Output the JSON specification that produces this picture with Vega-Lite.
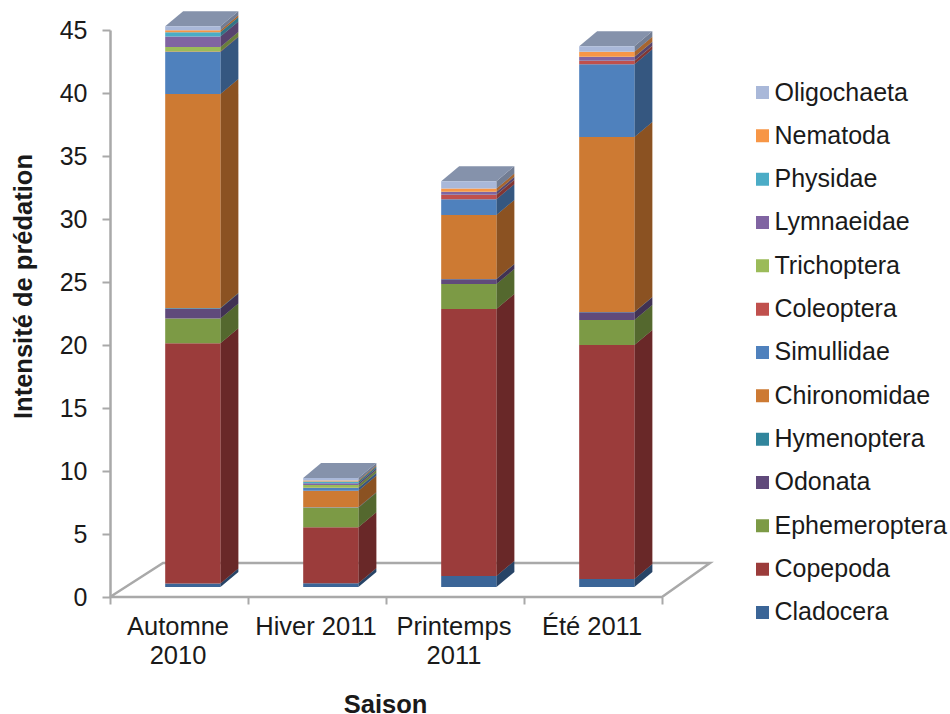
{
"$schema":"https://vega.github.io/schema/vega-lite/v6.json",
"width":600,"height":567,"autosize":"none",
"padding":{"left":110,"top":30,"right":240,"bottom":117},
"background":"white",
"config":{"view":{"stroke":null},"font":"Liberation Sans"},
"datasets":{
"rows":[
{"saison":"Automne 2010","i":0,"rang":1,"taxon":"Cladocera","v":0.28},{"saison":"Automne 2010","i":0,"rang":2,"taxon":"Copepoda","v":19.05},{"saison":"Automne 2010","i":0,"rang":3,"taxon":"Ephemeroptera","v":1.98},{"saison":"Automne 2010","i":0,"rang":4,"taxon":"Odonata","v":0.79},{"saison":"Automne 2010","i":0,"rang":5,"taxon":"Hymenoptera","v":0.04},{"saison":"Automne 2010","i":0,"rang":6,"taxon":"Chironomidae","v":16.98},{"saison":"Automne 2010","i":0,"rang":7,"taxon":"Simullidae","v":3.33},{"saison":"Automne 2010","i":0,"rang":8,"taxon":"Coleoptera","v":0.04},{"saison":"Automne 2010","i":0,"rang":9,"taxon":"Trichoptera","v":0.37},{"saison":"Automne 2010","i":0,"rang":10,"taxon":"Lymnaeidae","v":0.83},{"saison":"Automne 2010","i":0,"rang":11,"taxon":"Physidae","v":0.34},{"saison":"Automne 2010","i":0,"rang":12,"taxon":"Nematoda","v":0.16},{"saison":"Automne 2010","i":0,"rang":13,"taxon":"Oligochaeta","v":0.3},
{"saison":"Hiver 2011","i":1,"rang":1,"taxon":"Cladocera","v":0.3},{"saison":"Hiver 2011","i":1,"rang":2,"taxon":"Copepoda","v":4.44},{"saison":"Hiver 2011","i":1,"rang":3,"taxon":"Ephemeroptera","v":1.55},{"saison":"Hiver 2011","i":1,"rang":4,"taxon":"Odonata","v":0.02},{"saison":"Hiver 2011","i":1,"rang":5,"taxon":"Hymenoptera","v":0.02},{"saison":"Hiver 2011","i":1,"rang":6,"taxon":"Chironomidae","v":1.31},{"saison":"Hiver 2011","i":1,"rang":7,"taxon":"Simullidae","v":0.21},{"saison":"Hiver 2011","i":1,"rang":8,"taxon":"Coleoptera","v":0.02},{"saison":"Hiver 2011","i":1,"rang":9,"taxon":"Trichoptera","v":0.21},{"saison":"Hiver 2011","i":1,"rang":10,"taxon":"Lymnaeidae","v":0.14},{"saison":"Hiver 2011","i":1,"rang":11,"taxon":"Physidae","v":0.14},{"saison":"Hiver 2011","i":1,"rang":12,"taxon":"Nematoda","v":0.08},{"saison":"Hiver 2011","i":1,"rang":13,"taxon":"Oligochaeta","v":0.21},
{"saison":"Printemps 2011","i":2,"rang":1,"taxon":"Cladocera","v":0.87},{"saison":"Printemps 2011","i":2,"rang":2,"taxon":"Copepoda","v":21.19},{"saison":"Printemps 2011","i":2,"rang":3,"taxon":"Ephemeroptera","v":1.98},{"saison":"Printemps 2011","i":2,"rang":4,"taxon":"Odonata","v":0.38},{"saison":"Printemps 2011","i":2,"rang":5,"taxon":"Hymenoptera","v":0.02},{"saison":"Printemps 2011","i":2,"rang":6,"taxon":"Chironomidae","v":5.08},{"saison":"Printemps 2011","i":2,"rang":7,"taxon":"Simullidae","v":1.25},{"saison":"Printemps 2011","i":2,"rang":8,"taxon":"Coleoptera","v":0.34},{"saison":"Printemps 2011","i":2,"rang":9,"taxon":"Trichoptera","v":0.02},{"saison":"Printemps 2011","i":2,"rang":10,"taxon":"Lymnaeidae","v":0.21},{"saison":"Printemps 2011","i":2,"rang":11,"taxon":"Physidae","v":0.02},{"saison":"Printemps 2011","i":2,"rang":12,"taxon":"Nematoda","v":0.26},{"saison":"Printemps 2011","i":2,"rang":13,"taxon":"Oligochaeta","v":0.58},
{"saison":"Été 2011","i":3,"rang":1,"taxon":"Cladocera","v":0.63},{"saison":"Été 2011","i":3,"rang":2,"taxon":"Copepoda","v":18.57},{"saison":"Été 2011","i":3,"rang":3,"taxon":"Ephemeroptera","v":1.98},{"saison":"Été 2011","i":3,"rang":4,"taxon":"Odonata","v":0.61},{"saison":"Été 2011","i":3,"rang":5,"taxon":"Hymenoptera","v":0.02},{"saison":"Été 2011","i":3,"rang":6,"taxon":"Chironomidae","v":13.9},{"saison":"Été 2011","i":3,"rang":7,"taxon":"Simullidae","v":5.77},{"saison":"Été 2011","i":3,"rang":8,"taxon":"Coleoptera","v":0.26},{"saison":"Été 2011","i":3,"rang":9,"taxon":"Trichoptera","v":0.02},{"saison":"Été 2011","i":3,"rang":10,"taxon":"Lymnaeidae","v":0.29},{"saison":"Été 2011","i":3,"rang":11,"taxon":"Physidae","v":0.02},{"saison":"Été 2011","i":3,"rang":12,"taxon":"Nematoda","v":0.4},{"saison":"Été 2011","i":3,"rang":13,"taxon":"Oligochaeta","v":0.44}
],
"sol":[{"n":1,"a":0,"b":0},{"n":2,"a":0.384,"b":2.7},{"n":3,"a":4.348,"b":2.7},{"n":4,"a":4,"b":0},{"n":5,"a":0,"b":0}]
},
"layer":[
{"data":{"name":"sol"},
 "mark":{"type":"line","color":"#a9a9a9","strokeWidth":2.5},
 "encoding":{"order":{"field":"n","type":"quantitative"},
  "x":{"field":"a","type":"quantitative","scale":{"domain":[0,4.348],"nice":false,"zero":false},
   "axis":{"title":"Saison","titleFontSize":25.5,"titleFontWeight":"bold","titleColor":"#1a1a1a","titleX":275,"titleY":107,"titleBaseline":"middle",
    "domain":false,"grid":false,"values":[0,0.5,1,1.5,2,2.5,3,3.5,4],"tickColor":"#a9a9a9","tickWidth":2,"tickSize":7,
    "tickOpacity":{"condition":{"test":"datum.value%1==0","value":1},"value":0},
    "labelFontSize":25.5,"labelColor":"#1a1a1a","labelPadding":10,"labelOffset":-1.5,"labelOverlap":false,"labelBound":false,"labelFlush":false,"labelLineHeight":29,"labelAngle":0,
    "labelExpr":"datum.value==0.5?['Automne','2010']:datum.value==1.5?'Hiver 2011':datum.value==2.5?['Printemps','2011']:datum.value==3.5?'Été 2011':''"}},
  "y":{"field":"b","type":"quantitative","scale":{"domain":[0,45],"nice":false},
   "axis":{"title":"Intensité de prédation","titleFontSize":25.5,"titleFontWeight":"bold","titleColor":"#1a1a1a","titleX":-87,"titleY":256,"titleAlign":"center","titleBaseline":"middle",
    "values":[0,5,10,15,20,25,30,35,40,45],"grid":false,"domainColor":"#a9a9a9","domainWidth":2.5,"tickColor":"#a9a9a9","tickWidth":2,"tickSize":8,"labelFontSize":25,"labelColor":"#1a1a1a","labelPadding":15}}}},
{"data":{"name":"rows"},
 "transform":[{"stack":"v","groupby":["saison"],"sort":[{"field":"rang","order":"ascending"}],"as":["s0","s1"]},
  {"calculate":"[0,1]","as":"d"},{"flatten":["d"]},
  {"calculate":"datum.i+0.8+0.13*datum.d","as":"xa"},
  {"calculate":"datum.s0+0.8+1.19*datum.d","as":"ya"},
  {"calculate":"datum.s1+0.8+1.19*datum.d","as":"yb"},
  {"calculate":"datum.saison+datum.taxon","as":"cle"}],
 "layer":[
 {"mark":{"type":"area","orient":"vertical"},
  "encoding":{"x":{"field":"xa","type":"quantitative"},"y":{"field":"ya","type":"quantitative"},"y2":{"field":"yb"},
   "detail":{"field":"cle"},
   "color":{"field":"taxon","type":"nominal"}}},
 {"mark":{"type":"area","orient":"vertical","color":"#000000","fillOpacity":0.32},
  "encoding":{"x":{"field":"xa","type":"quantitative"},"y":{"field":"ya","type":"quantitative"},"y2":{"field":"yb"},
   "detail":{"field":"cle"}}}
 ]},
{"data":{"name":"rows"},
 "transform":[{"stack":"v","groupby":["saison"],"sort":[{"field":"rang","order":"ascending"}],"as":["s0","s1"]},
  {"filter":"datum.rang==13"},
  {"calculate":"[0,1]","as":"d"},{"flatten":["d"]},
  {"calculate":"datum.i+0.4+0.13*datum.d","as":"xa"},
  {"calculate":"datum.i+0.8+0.13*datum.d","as":"xb"},
  {"calculate":"datum.s1+0.8+1.19*datum.d","as":"yb"}],
 "mark":{"type":"area","orient":"horizontal","color":"#8592ab"},
 "encoding":{"y":{"field":"yb","type":"quantitative"},"x":{"field":"xa","type":"quantitative"},"x2":{"field":"xb"},"detail":{"field":"saison"}}},
{"data":{"name":"rows"},
 "transform":[{"stack":"v","groupby":["saison"],"sort":[{"field":"rang","order":"ascending"}],"as":["s0","s1"]},
  {"calculate":"datum.i+0.4","as":"xa"},{"calculate":"datum.i+0.8","as":"xb"},
  {"calculate":"datum.s0+0.8","as":"ya"},{"calculate":"datum.s1+0.8","as":"yb"}],
 "mark":{"type":"rect"},
 "encoding":{"x":{"field":"xa","type":"quantitative"},"x2":{"field":"xb"},"y":{"field":"ya","type":"quantitative"},"y2":{"field":"yb"},
  "color":{"field":"taxon","type":"nominal",
   "scale":{"domain":["Cladocera","Copepoda","Ephemeroptera","Odonata","Hymenoptera","Chironomidae","Simullidae","Coleoptera","Trichoptera","Lymnaeidae","Physidae","Nematoda","Oligochaeta"],
    "range":["#3b6597","#9b3c3b","#7c9a45","#604a7b","#31859c","#cd7a33","#4f81bd","#c0504d","#9bbb59","#8064a2","#4bacc6","#f79646","#a9b8d9"]},
   "legend":{"orient":"none","legendX":640,"legendY":49,"padding":0,"title":null,"symbolType":"square","symbolSize":169,"symbolStrokeWidth":0,"labelFontSize":25,"labelLimit":300,"labelColor":"#1a1a1a","labelOffset":-0.5,"rowPadding":16.33,"clipHeight":27,
    "values":["Oligochaeta","Nematoda","Physidae","Lymnaeidae","Trichoptera","Coleoptera","Simullidae","Chironomidae","Hymenoptera","Odonata","Ephemeroptera","Copepoda","Cladocera"]}}}}
]
}
